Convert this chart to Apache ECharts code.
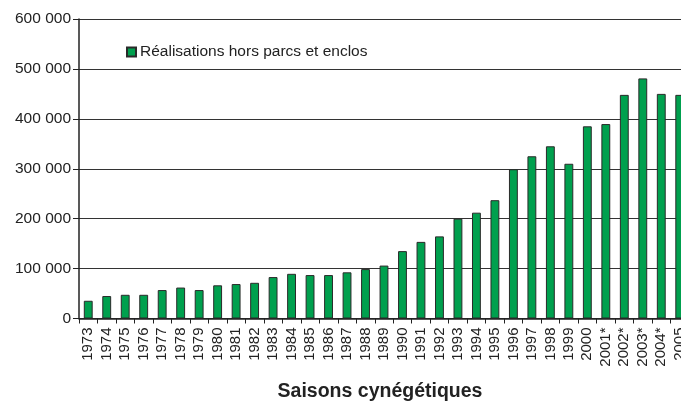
<!DOCTYPE html>
<html>
<head>
<meta charset="utf-8">
<script src="https://cdn.jsdelivr.net/npm/echarts@6/dist/echarts.min.js"></script>
<style>
  html, body { margin: 0; padding: 0; background: #fff; }
  #chart { width: 681px; height: 403px; }
</style>
</head>
<body>
<div id="chart"></div>
<script>
// saisons
const seasons = ['1973', '1974', '1975', '1976', '1977', '1978', '1979', '1980', '1981', '1982',
  '1983', '1984', '1985', '1986', '1987', '1988', '1989', '1990', '1991', '1992',
  '1993', '1994', '1995', '1996', '1997', '1998', '1999', '2000', '2001*', '2002*',
  '2003*', '2004*', '2005']
// réalisations hors parcs et enclos
const realisations = [35500, 45000, 47500, 47500, 57000, 62000, 57000, 66500, 69000, 71500,
  83000, 89500, 87000, 87000, 92500, 99000, 106000, 135000, 153500, 164500,
  200000, 212000, 237000, 299000, 325000, 345000, 310000, 385000, 389500, 448000,
  481000, 450000, 448000]
const yTicks = [0, 100000, 200000, 300000, 400000, 500000, 600000]

const fmt = v => v === 0 ? '0' : String(v).replace(/\B(?=(\d{3})+(?!\d))/g, ' ')

const chart = echarts.init(document.getElementById('chart'))
chart.setOption({
  animation: false,
  textStyle: { fontFamily: 'Liberation Sans, Arial, sans-serif' },
  legend: {
    left: 121,
    top: 39,
    icon: 'rect',
    itemWidth: 9,
    itemHeight: 9,
    itemGap: 6,
    textStyle: { fontSize: 15.5, color: '#222', padding: [0, 0, 0, -1] },
    data: ['Réalisations hors parcs et enclos']
  },
  grid: {
    left: 79,
    top: 19,
    width: 610,
    height: 299.5,
    outerBoundsMode: 'none'
  },
  xAxis: {
    type: 'category',
    data: seasons,
    name: 'Saisons cynégétiques',
    nameLocation: 'middle',
    nameGap: 63,
    nameTextStyle: { fontSize: 19.5, fontWeight: 'bold', color: '#222', padding: [0, 8, 0, 0] },
    axisLine: { lineStyle: { color: '#222', width: 1.5 } },
    axisTick: { show: true, length: 5, lineStyle: { color: '#222' } },
    axisLabel: { rotate: 90, fontSize: 15, color: '#222', margin: 9, interval: 0 }
  },
  yAxis: {
    type: 'value',
    min: yTicks[0],
    max: yTicks[yTicks.length - 1],
    interval: 100000,
    axisLine: { show: true, lineStyle: { color: '#222', width: 1.5 } },
    axisTick: { show: true, length: 6, lineStyle: { color: '#222' } },
    axisLabel: { fontSize: 15.5, color: '#222', margin: 8, formatter: fmt },
    splitLine: { lineStyle: { color: '#333', width: 1.2 } }
  },
  series: [{
    name: 'Réalisations hors parcs et enclos',
    type: 'bar',
    data: realisations,
    barWidth: '48%',
    itemStyle: { color: '#00a04e', borderColor: '#2a2a2a', borderWidth: 1 }
  }]
})
</script>
</body>
</html>
